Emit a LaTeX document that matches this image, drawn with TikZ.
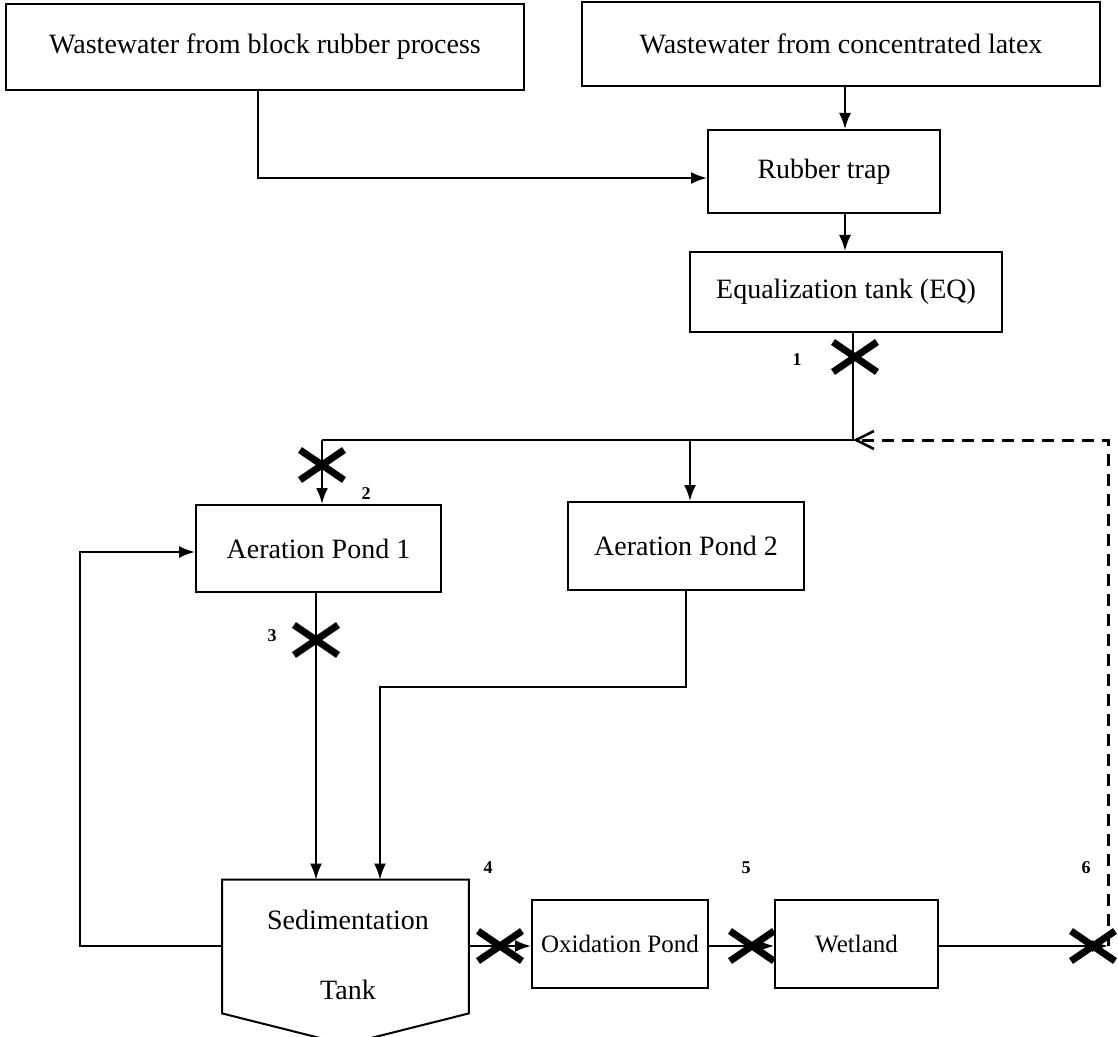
\documentclass[tikz,border=0pt]{standalone}
\usepackage{fontspec}
\setmainfont{Liberation Serif}
\usetikzlibrary{arrows.meta}
\begin{document}
\begin{tikzpicture}[x=0.5pt,y=-0.5pt,
  procbox/.style={draw, line width=1pt, inner sep=0pt, font=\fontsize{14}{16}\selectfont},
  smallbox/.style={procbox, font=\fontsize{12.5}{14}\selectfont},
  flow/.style={line width=1pt},
  flowarrow/.style={line width=1pt, -{Latex[length=8pt,width=6pt]}},
  recycle/.style={line width=1.5pt, dash pattern=on 6pt off 4pt,
    -{Straight Barb[length=9pt,width=9pt,line width=1.3pt]}},
  numlabel/.style={font=\fontsize{9}{11}\selectfont\bfseries, inner sep=0pt},
  xmark/.pic={\draw[line width=3.5pt] (-22,-15) -- (22,15) (-22,15) -- (22,-15);}]
\useasboundingbox (0,0) rectangle (1118,1037);

% process units
\node[procbox, minimum width=259pt, minimum height=43pt] (blk) at (265,47) {Wastewater from block rubber process};
\node[procbox, minimum width=259pt, minimum height=42pt] (lat) at (841,44) {Wastewater from concentrated latex};
\node[procbox, minimum width=116pt, minimum height=41.5pt] (trap) at (824,171.5) {Rubber trap};
\node[procbox, minimum width=156pt, minimum height=40pt] (eq) at (846,292) {Equalization tank (EQ)};
\node[procbox, minimum width=122.5pt, minimum height=43.5pt] (ap1) at (318.5,548.5) {Aeration Pond 1};
\node[procbox, minimum width=118pt, minimum height=44pt] (ap2) at (686,546) {Aeration Pond 2};
\node[smallbox, minimum width=88pt, minimum height=44pt] (ox) at (620,944) {Oxidation Pond};
\node[smallbox, minimum width=81.5pt, minimum height=44pt] (wet) at (856.5,944) {Wetland};

% sedimentation tank with hopper bottom
\node[inner sep=0pt, minimum width=123pt, minimum height=66.5pt] (sed) at (345.5,946.5) {};
\draw[line width=1pt] (sed.north west) -- (sed.north east) -- (sed.south east)
  -- ([yshift=-15.5pt]sed.south) -- (sed.south west) -- cycle;
\node[font=\fontsize{14}{16}\selectfont, align=center] (sedtext) at (348,955) {Sedimentation\\[19pt]Tank};

% junction points
\coordinate (jblk) at (258,178);
\coordinate (xin) at (845,0);
\coordinate (split) at (853,440);
\coordinate (xap1) at (322,440);
\coordinate (xap2) at (690,440);
\coordinate (x3) at (316,0);
\coordinate (bend2) at (686,687);
\coordinate (x2in) at (380,687);
\coordinate (loop) at (80,552);
\coordinate (ret) at (1108,946);
\coordinate (sedout) at (0,946);

% main flow
\draw[flowarrow] (blk.south -| jblk) -- (jblk) -- (jblk -| trap.west);
\draw[flowarrow] (lat.south -| xin) -- (trap.north -| xin);
\draw[flowarrow] (trap.south -| xin) -- (eq.north -| xin);
\draw[flow] (eq.south -| split) -- (split) -- (xap1);
\draw[flowarrow] (xap1) -- (ap1.north -| xap1);
\draw[flowarrow] (xap2) -- (ap2.north -| xap2);
\draw[flowarrow] (ap1.south -| x3) -- (sed.north -| x3);
\draw[flowarrow] (ap2.south -| bend2) -- (bend2) -- (x2in) -- (sed.north -| x2in);
\draw[flowarrow] (sed.west |- sedout) -- (loop |- sedout) -- (loop) -- (ap1.west |- loop);
\draw[flowarrow] (sed.east |- sedout) -- (ox.west |- sedout);
\draw[flowarrow] (ox.east |- sedout) -- (wet.west |- sedout);
\draw[flowarrow] (wet.east |- sedout) -- (ret);

% recirculation
\draw[recycle] (ret) -- (ret |- split) -- (split);

% sampling points
\pic at (855,357) {xmark};
\pic at (322,465) {xmark};
\pic at (316,640) {xmark};
\pic at (500,946) {xmark};
\pic at (752,946) {xmark};
\pic at (1093,946) {xmark};
\node[numlabel] (n1) at (797,360) {1};
\node[numlabel] (n2) at (366,494) {2};
\node[numlabel] (n3) at (272,636) {3};
\node[numlabel] (n4) at (488,868) {4};
\node[numlabel] (n5) at (746,868) {5};
\node[numlabel] (n6) at (1086,868) {6};
\end{tikzpicture}
\end{document}
